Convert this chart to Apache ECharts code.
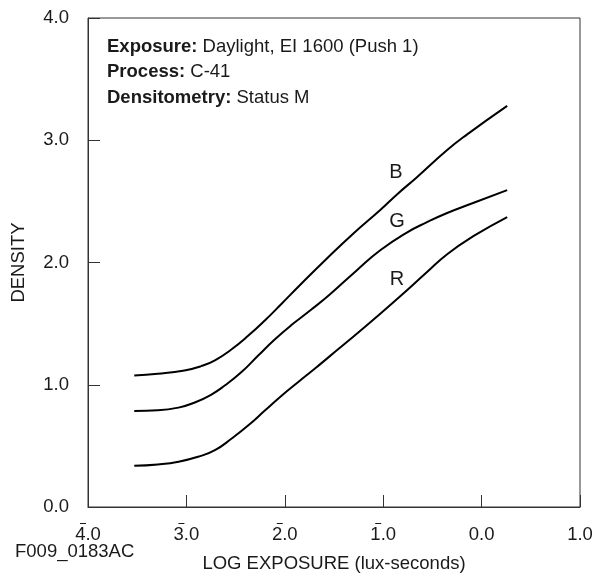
<!DOCTYPE html>
<html>
<head>
<meta charset="utf-8">
<script src="https://cdn.jsdelivr.net/npm/echarts@6/dist/echarts.min.js"></script>
<style>
html,body{margin:0;padding:0;background:#fff;}
#chart{width:603px;height:578px;}
</style>
</head>
<body>
<div id="chart"></div>
<script>
// Tick values and labels (negative logs shown with bar notation)
var xTicks = [-4, -3, -2, -1, 0, 1];
var xTickLabels = ['4.0', '3.0', '2.0', '1.0', '0.0', '1.0'];
var xTickBar = [true, true, true, true, false, false];
var yTicks = [0, 1, 2, 3, 4];
var yTickLabels = ['0.0', '1.0', '2.0', '3.0', '4.0'];

// Curves: [log exposure, density]
var curveB = [[-3.53,1.076],[-3.29,1.09],[-3.02,1.117],[-2.85,1.152],[-2.71,1.2],[-2.54,1.29],[-2.37,1.402],[-2.20,1.528],[-2.03,1.665],[-1.85,1.812],[-1.58,2.027],[-1.30,2.24],[-1.03,2.43],[-0.86,2.557],[-0.66,2.696],[-0.35,2.92],[-0.15,3.046],[0.26,3.281]];
var curveG = [[-3.53,0.786],[-3.29,0.791],[-3.08,0.813],[-2.92,0.853],[-2.75,0.918],[-2.61,0.994],[-2.44,1.104],[-2.27,1.239],[-2.10,1.372],[-1.93,1.49],[-1.73,1.615],[-1.54,1.74],[-1.27,1.935],[-1.03,2.1],[-0.76,2.245],[-0.56,2.328],[-0.35,2.405],[-0.08,2.489],[0.26,2.592]];
var curveR = [[-3.53,0.337],[-3.29,0.348],[-3.08,0.37],[-2.88,0.411],[-2.71,0.465],[-2.54,0.56],[-2.37,0.668],[-2.20,0.791],[-2.03,0.913],[-1.86,1.025],[-1.69,1.135],[-1.56,1.222],[-1.19,1.47],[-0.83,1.722],[-0.56,1.918],[-0.35,2.068],[-0.08,2.217],[0.26,2.372]];
var curveNames = ['B', 'G', 'R'];
var labelPos = [[-0.87, 2.733], [-0.86, 2.339], [-0.86, 1.864]];

var FONT = 'Liberation Sans, Arial, sans-serif';
var TXT = '#1a1a1a';
var FS = 18.5;

var chart = echarts.init(document.getElementById('chart'), null, {renderer: 'canvas'});

function mkSeries(name, data, lp) {
  return {
    name: name,
    type: 'line',
    data: data,
    smooth: 0.5,
    symbol: 'none',
    lineStyle: {color: '#000', width: 2},
    silent: true,
    markPoint: {
      symbol: 'circle',
      symbolSize: 0,
      data: [{coord: lp, value: name}],
      label: {show: true, position: 'inside', formatter: name, color: TXT, fontFamily: FONT, fontSize: 20}
    }
  };
}

chart.setOption({
  animation: false,
  backgroundColor: '#fff',
  grid: {left: 88, top: 18, width: 492, height: 491, show: true, borderColor: '#333', borderWidth: 1, backgroundColor: 'transparent'},
  xAxis: {
    type: 'value', min: -4, max: 1, interval: 1,
    name: 'LOG EXPOSURE (lux-seconds)', nameLocation: 'middle', nameGap: 47,
    nameTextStyle: {color: TXT, fontFamily: FONT, fontSize: FS},
    axisLine: {show: true, lineStyle: {color: '#333', width: 1}},
    axisTick: {show: true, inside: true, length: 12, lineStyle: {color: '#333'}},
    splitLine: {show: false},
    axisLabel: {
      color: TXT, fontFamily: FONT, fontSize: FS, margin: 14,
      formatter: function (v) {
        var i = xTicks.indexOf(Math.round(v));
        if (i < 0) return '';
        return (xTickBar[i] ? '{o|}' : '{oh|}') + '{s|}\n{n|' + xTickLabels[i] + '}';
      },
      rich: {
        o: {width: 6, height: 1, lineHeight: 5, backgroundColor: '#1a1a1a'},
        oh: {width: 6, height: 1, lineHeight: 5},
        s: {width: 10, height: 1, lineHeight: 5},
        n: {fontSize: FS, fontFamily: FONT, color: TXT, lineHeight: 18}
      }
    }
  },
  yAxis: {
    type: 'value', min: 0, max: 4, interval: 1,
    name: 'DENSITY', nameLocation: 'middle', nameGap: 60, nameRotate: 90,
    nameTextStyle: {color: TXT, fontFamily: FONT, fontSize: FS},
    axisLine: {show: true, onZero: false, lineStyle: {color: '#333', width: 1}},
    axisTick: {show: true, inside: true, length: 12, lineStyle: {color: '#333'}},
    splitLine: {show: false},
    axisLabel: {
      color: TXT, fontFamily: FONT, fontSize: FS, margin: 19,
      formatter: function (v) { var i = yTicks.indexOf(Math.round(v)); return i >= 0 ? yTickLabels[i] : ''; }
    }
  },
  series: [
    mkSeries(curveNames[0], curveB, labelPos[0]),
    mkSeries(curveNames[1], curveG, labelPos[1]),
    mkSeries(curveNames[2], curveR, labelPos[2])
  ],
  graphic: [
    {
      type: 'text', left: 107, top: 34,
      style: {
        text: '{b|Exposure:} Daylight, EI 1600 (Push 1)\n{b|Process:} C-41\n{b|Densitometry:} Status M',
        fill: TXT, font: FS + 'px ' + FONT, lineHeight: 25.5,
        rich: {b: {fontWeight: 'bold', fontSize: FS, fontFamily: FONT, fill: TXT, lineHeight: 25.5}}
      }
    },
    {
      type: 'text', left: 15, top: 542,
      style: {text: 'F009_0183AC', fill: TXT, font: FS + 'px ' + FONT}
    }
  ]
});
</script>
</body>
</html>
